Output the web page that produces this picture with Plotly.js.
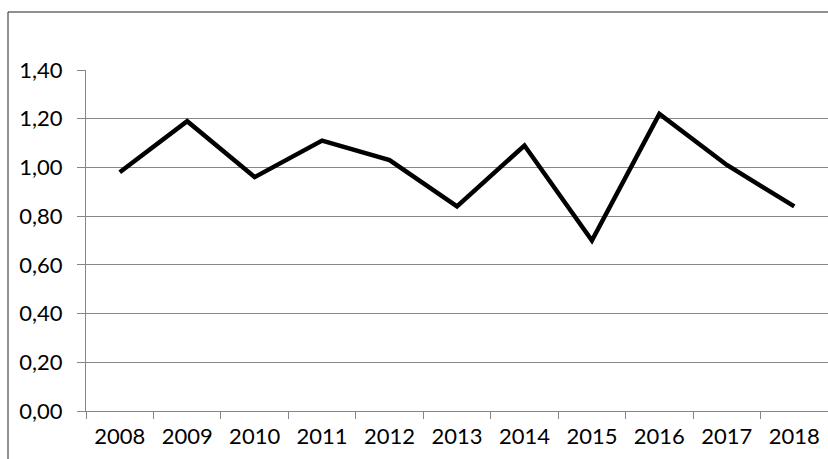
<!DOCTYPE html>
<html>
<head>
<script src="https://cdn.plot.ly/plotly-3.0.1.min.js"></script>
<style>body{margin:0;background:white}</style>
</head>
<body>
<div id="chart" style="width:828px;height:459px"></div>
<script>
const years = ['2008', '2009', '2010', '2011', '2012', '2013', '2014', '2015', '2016', '2017', '2018'];
const values = [0.98, 1.19, 0.96, 1.11, 1.03, 0.84, 1.09, 0.70, 1.22, 1.01, 0.84];
const yTicks = [0, 0.2, 0.4, 0.6, 0.8, 1.0, 1.2, 1.4];
const yTickText = ['0,00', '0,20', '0,40', '0,60', '0,80', '1,00', '1,20', '1,40'];

const trace = {
    x: years,
    y: values,
    type: 'scatter',
    mode: 'lines',
    line: { color: 'black', width: 4.5 },
    hoverinfo: 'none'
};

const plotH = 411 - 70;
const left = (8 - 86) / 742;

const layout = {
    width: 828,
    height: 459,
    plot_bgcolor: 'white',
    paper_bgcolor: 'white',
    font: { family: 'Lato, Open Sans, sans-serif', size: 22, color: 'black' },
    margin: { l: 86, r: 0, t: 70, b: 48, pad: 0 },
    showlegend: false,
    xaxis: {
        type: 'category',
        showgrid: false,
        showline: true,
        linecolor: '#868686',
        ticks: 'outside',
        tickson: 'boundaries',
        ticklen: 7,
        tickcolor: '#868686',
        ticklabelstandoff: 6,
        range: [-0.5, 10.5],
        fixedrange: true
    },
    yaxis: {
        range: [0, 1.4],
        tickvals: yTicks,
        ticktext: yTickText,
        gridcolor: '#868686',
        gridwidth: 1,
        showline: true,
        linecolor: '#868686',
        ticks: 'outside',
        ticklen: 8,
        tickcolor: '#868686',
        ticklabelstandoff: 10,
        zeroline: false,
        fixedrange: true
    },
    shapes: [
        { type: 'line', xref: 'paper', yref: 'paper', x0: left, x1: left, y0: -0.2, y1: (70 - 12) / plotH + 1, line: { color: '#222', width: 1 } },
        { type: 'line', xref: 'paper', yref: 'paper', x0: left, x1: 1.1, y0: (70 - 12) / plotH + 1, y1: (70 - 12) / plotH + 1, line: { color: '#222', width: 1 } }
    ]
};

Plotly.newPlot('chart', [trace], layout, { displayModeBar: false, staticPlot: true });
</script>
</body>
</html>
